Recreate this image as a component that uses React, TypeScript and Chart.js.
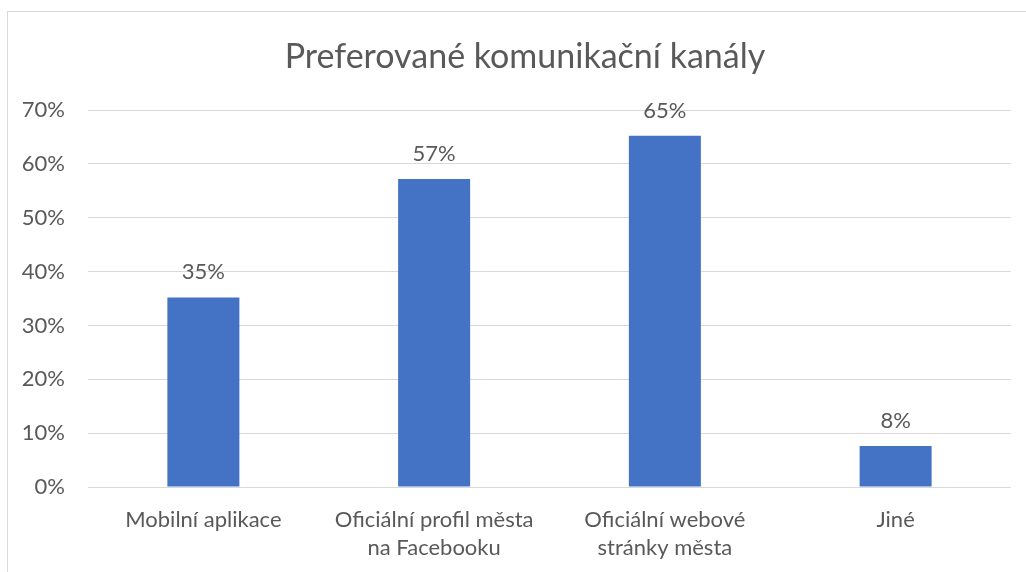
import React, { useEffect, useRef } from "react";
import { Chart, registerables } from "chart.js";

Chart.register(...registerables);

const TITLE = "Preferované komunikační kanály";
const CATEGORIES: (string | string[])[] = [
  "Mobilní aplikace",
  ["Oficiální profil města", "na Facebooku"],
  ["Oficiální webové", "stránky města"],
  "Jiné",
];
const VALUES = [35.2, 57.2, 65.2, 7.6];
const Y_MAX = 70;
const Y_STEP = 10;

const FONT = "Lato, 'Open Sans', sans-serif";
const TEXT_COLOR = "#595959";
const GRID_COLOR = "#d9d9d9";
const BAR_COLOR = "#4472c4";

const titlePlugin = {
  id: "fixedTitle",
  afterDraw(chart: any) {
    const ctx = chart.ctx;
    ctx.save();
    ctx.font = `34px ${FONT}`;
    ctx.fillStyle = TEXT_COLOR;
    ctx.textAlign = "center";
    ctx.textBaseline = "middle";
    ctx.fillText(TITLE, 525, 57);
    ctx.restore();
  },
};

const labelPlugin = {
  id: "barLabels",
  afterDatasetsDraw(chart: any) {
    const ctx = chart.ctx;
    const meta = chart.getDatasetMeta(0);
    const data = chart.data.datasets[0].data as number[];
    ctx.save();
    ctx.font = `22px ${FONT}`;
    ctx.fillStyle = TEXT_COLOR;
    ctx.textAlign = "center";
    ctx.textBaseline = "alphabetic";
    meta.data.forEach((el: any, i: number) => {
      ctx.fillText(Math.round(data[i]) + "%", el.x, el.y - 18);
    });
    ctx.restore();
  },
};

export default function App() {
  const ref = useRef<HTMLCanvasElement>(null);
  useEffect(() => {
    document.body.style.margin = "0";
    document.body.style.overflow = "hidden";
    const chart = new Chart(ref.current!, {
      type: "bar",
      data: {
        labels: CATEGORIES,
        datasets: [
          {
            data: VALUES,
            backgroundColor: BAR_COLOR,
            barPercentage: 0.624,
            categoryPercentage: 0.5,
          },
        ],
      },
      options: {
        animation: false,
        responsive: false,
        layout: { padding: { top: 110, right: 15, left: 0, bottom: 0 } },
        plugins: {
          legend: { display: false },
          title: { display: false },
          tooltip: { enabled: false },
        },
        scales: {
          x: {
            grid: { display: false },
            border: { display: false },
            ticks: {
              color: TEXT_COLOR,
              font: { family: FONT, size: 22, lineHeight: 1.27 },
              maxRotation: 0,
              autoSkip: false,
              padding: 11,
            },
            afterFit(scale: any) {
              scale.height = 85;
            },
          },
          y: {
            min: 0,
            max: Y_MAX,
            grid: { color: GRID_COLOR, lineWidth: 1, drawTicks: false },
            border: { display: false },
            ticks: {
              stepSize: Y_STEP,
              color: TEXT_COLOR,
              font: { family: FONT, size: 22 },
              padding: 23,
              callback: (v: any) => v + "%",
            },
            afterFit(scale: any) {
              scale.width = 88;
            },
          },
        },
      },
      plugins: [titlePlugin, labelPlugin],
    });
    return () => chart.destroy();
  }, []);
  return (
    <div style={{ position: "fixed", left: 0, top: 0, width: 1026, height: 572, background: "#fff" }}>
      <div
        style={{
          position: "absolute",
          left: 7,
          top: 11,
          width: 1040,
          height: 600,
          border: `1px solid ${GRID_COLOR}`,
        }}
      />
      <canvas ref={ref} width={1026} height={572} style={{ position: "absolute", left: 0, top: 0 }} />
    </div>
  );
}
